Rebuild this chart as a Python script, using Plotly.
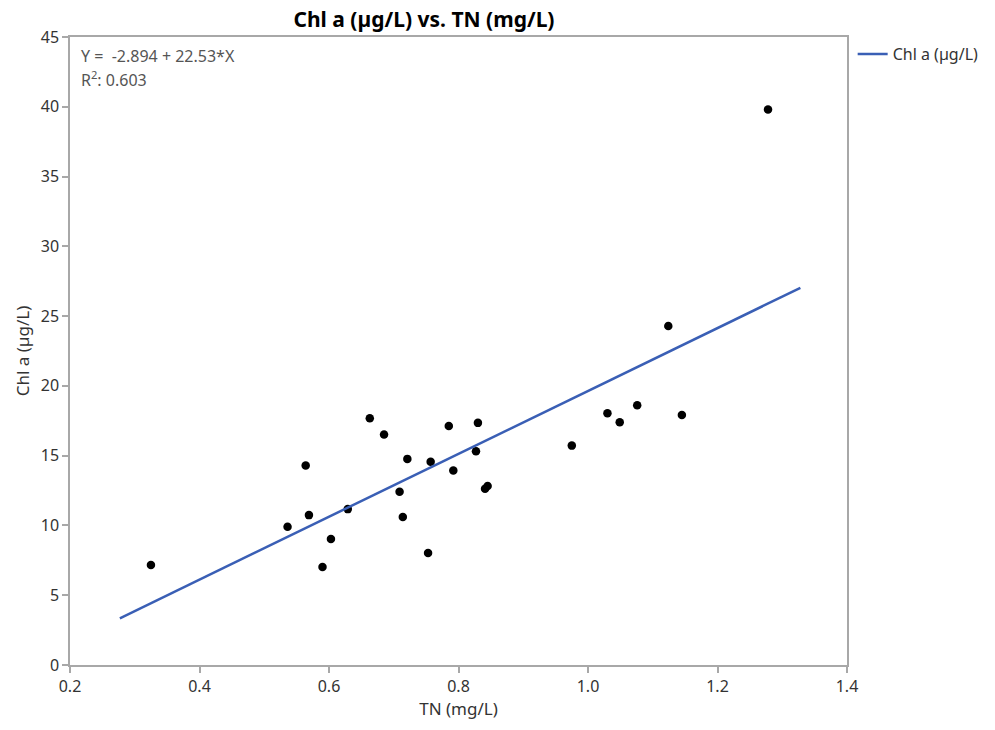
import plotly.graph_objects as go

# Data
tn = [0.325, 0.536, 0.564, 0.569, 0.590, 0.603, 0.629, 0.663, 0.685, 0.709,
      0.714, 0.721, 0.753, 0.757, 0.785, 0.792, 0.827, 0.830, 0.841, 0.845,
      0.975, 1.030, 1.049, 1.076, 1.124, 1.145, 1.278]
chla = [7.17, 9.91, 14.29, 10.74, 7.02, 9.03, 11.17, 17.68, 16.51, 12.41,
        10.60, 14.77, 8.02, 14.56, 17.13, 13.93, 15.32, 17.35, 12.63, 12.82,
        15.72, 18.04, 17.40, 18.61, 24.29, 17.92, 39.80]

intercept = -2.894
slope = 22.53
r2 = 0.603
fit_x = [0.277, 1.328]
fit_y = [intercept + slope * v for v in fit_x]

x_ticks = [0.2, 0.4, 0.6, 0.8, 1.0, 1.2, 1.4]
x_tick_text = ["0.2", "0.4", "0.6", "0.8", "1.0", "1.2", "1.4"]
y_ticks = [0, 5, 10, 15, 20, 25, 30, 35, 40, 45]

FONT = "Noto Sans"
TXT = "#333333"
AXC = "#a8a8a8"

# page has an 8px body margin; size the figure to fit the 995x730 window
W, H = 987, 722
OFF = 8

fig = go.Figure()
fig.add_trace(go.Scatter(
    x=tn, y=chla, mode="markers",
    marker=dict(color="black", size=8.5),
    showlegend=False, hoverinfo="x+y"))
fig.add_trace(go.Scatter(
    x=fit_x, y=fit_y, mode="lines",
    line=dict(color="#3a5fb5", width=2.5),
    name="Chl a (µg/L)"))

fig.update_layout(
    width=W, height=H,
    margin=dict(l=70 - OFF, r=W + OFF - 848, t=37 - OFF, b=H + OFF - 665),
    paper_bgcolor="white", plot_bgcolor="white",
    font=dict(family=FONT, color=TXT, size=16),
    title=dict(text="<b>Chl a (µg/L) vs. TN (mg/L)</b>",
               x=(424 - OFF) / W, xanchor="center", xref="container",
               y=1 - (20 - OFF) / H, yanchor="middle", yref="container",
               font=dict(family=FONT, size=21, color="black")),
    legend=dict(x=1.006, xanchor="left", y=1.0, yanchor="top",
                font=dict(family=FONT, size=16, color=TXT),
                bgcolor="rgba(0,0,0,0)", itemwidth=30),
    xaxis=dict(range=[0.2, 1.4], tickvals=x_ticks, ticktext=x_tick_text,
               showgrid=False, zeroline=False,
               showline=True, linecolor=AXC, linewidth=1.5, mirror=True,
               ticks="outside", ticklen=6, tickcolor=AXC, tickwidth=1.5,
               tickfont=dict(size=16, color=TXT),
               title=dict(text="TN (mg/L)", font=dict(size=17, color=TXT),
                          standoff=5)),
    yaxis=dict(range=[0, 45], tickvals=y_ticks,
               showgrid=False, zeroline=False,
               showline=True, linecolor=AXC, linewidth=1.5, mirror=True,
               ticks="outside", ticklen=6, tickcolor=AXC, tickwidth=1.5,
               tickfont=dict(size=16, color=TXT),
               title=dict(text="Chl a (µg/L)", font=dict(size=17, color=TXT),
                          standoff=7)),
)

fig.add_annotation(
    text=f"Y =  {intercept} + {slope}*X",
    xref="paper", yref="paper", x=0.012, y=(665 - 56) / 628,
    xanchor="left", yanchor="middle", align="left", showarrow=False,
    font=dict(family=FONT, size=16, color="#555555"))
fig.add_annotation(
    text=f"R<sup>2</sup>: {r2}",
    xref="paper", yref="paper", x=0.012, y=(665 - 79) / 628,
    xanchor="left", yanchor="middle", align="left", showarrow=False,
    font=dict(family=FONT, size=16, color="#555555"))

fig.write_html("out.html")
